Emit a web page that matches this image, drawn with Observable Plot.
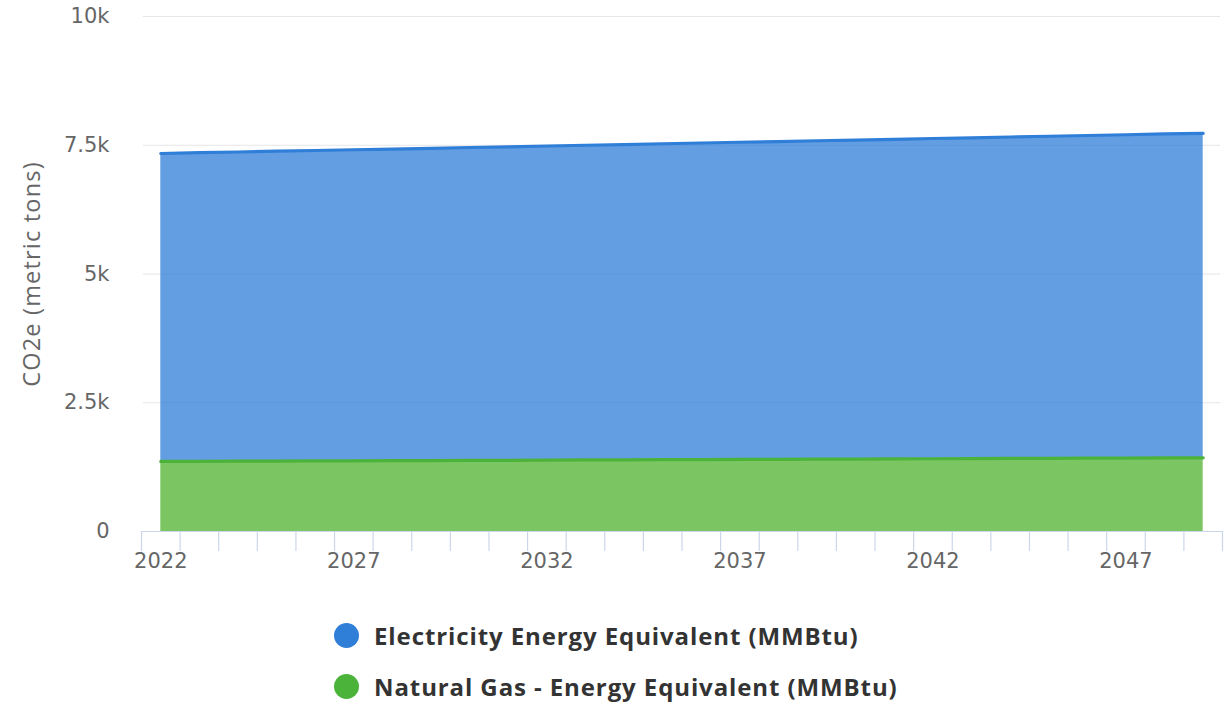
<!DOCTYPE html>
<html>
<head>
<meta charset="utf-8">
<script src="https://cdn.jsdelivr.net/npm/d3@7"></script>
<script src="https://cdn.jsdelivr.net/npm/@observablehq/plot@0.6"></script>
<style>
  html, body { margin: 0; padding: 0; background: #fff; }
  #wrap { position: relative; width: 1230px; height: 704px; font-family: "DejaVu Sans", sans-serif; }
  #legend { position: absolute; left: 334px; top: 610px; }
  .item { display: flex; align-items: center; height: 51px; }
  .dot { width: 25px; height: 25px; border-radius: 50%; margin-right: 15px; }
  .lbl { font-family: "Open Sans", sans-serif; font-weight: bold; font-size: 24px; letter-spacing: 0.9px; color: #333; }
</style>
</head>
<body>
<div id="wrap"><div id="chart"></div><div id="legend"></div></div>
<script>
const years = [2022,2023,2024,2025,2026,2027,2028,2029,2030,2031,2032,2033,2034,2035,2036,2037,2038,2039,2040,2041,2042,2043,2044,2045,2046,2047,2048,2049];
const electricity = [5980,5992,6004,6016,6028,6040,6051,6063,6075,6087,6099,6111,6123,6135,6147,6159,6170,6182,6194,6206,6218,6230,6242,6254,6266,6278,6290,6301];
const naturalGas = [1360,1363,1365,1368,1370,1373,1375,1378,1381,1383,1386,1389,1391,1394,1397,1399,1402,1405,1407,1410,1413,1415,1418,1421,1423,1426,1429,1431];
const seriesNames = ["Electricity Energy Equivalent (MMBtu)", "Natural Gas - Energy Equivalent (MMBtu)"];
const lineColors = ["#2f7ed8", "#4cb33a"];
const fillColors = ["#2f7ed8", "#4fb32f"];
const yTicks = [0, 2500, 5000, 7500, 10000];
const yTickLabels = ["0", "2.5k", "5k", "7.5k", "10k"];
const xLabelYears = [2022, 2027, 2032, 2037, 2042, 2047];

const data = [];
years.forEach((yr, i) => {
  data.push({year: yr, series: seriesNames[1], value: naturalGas[i]});
  data.push({year: yr, series: seriesNames[0], value: electricity[i]});
});
const order = [seriesNames[1], seriesNames[0]];
const tickBounds = d3.range(years[0] - 0.5, years[years.length - 1] + 1, 1);

const chart = Plot.plot({
  width: 1230,
  height: 590,
  marginTop: 16,
  marginBottom: 59,
  marginLeft: 141,
  marginRight: 8,
  style: {fontFamily: "DejaVu Sans, sans-serif", background: "#fff"},
  x: {domain: [years[0] - 0.5, years[years.length - 1] + 0.5], label: null},
  y: {domain: [0, 10000], label: null},
  color: {domain: seriesNames, range: fillColors},
  marks: [
    Plot.ruleY(yTicks.slice(1), {stroke: "#e6e6e6", strokeWidth: 1.2, x1: years[0] - 0.45, x2: years[years.length - 1] + 0.45}),
    Plot.areaY(data, Plot.stackY({x: "year", y: "value", z: "series", fill: "series", fillOpacity: 0.75, order})),
    Plot.lineY(data, Plot.stackY2({x: "year", y: "value", z: "series", stroke: d => d.series === seriesNames[0] ? lineColors[0] : lineColors[1], strokeWidth: 3.2, strokeLinecap: "round", order})),
    Plot.ruleY([0], {stroke: "#ccd6eb", strokeWidth: 1.2}),
    Plot.axisX(tickBounds, {tickSize: 20, stroke: "#ccd6eb", strokeWidth: 1.2, text: null, label: null}),
    Plot.axisX(xLabelYears, {tickSize: 0, tickPadding: 22, tickFormat: d => String(d), fontSize: 21, fill: "#666", label: null}),
    Plot.axisY(yTicks, {tickSize: 0, tickPadding: 32, tickFormat: d => yTickLabels[yTicks.indexOf(d)], fontSize: 21, fill: "#666", label: null}),
    Plot.text(["CO2e (metric tons)"], {frameAnchor: "left", textAnchor: "middle", dx: -109, rotate: -90, fontSize: 23.5, fontFamily: "Open Sans", fill: "#666", letterSpacing: 1.2})
  ]
});
document.getElementById("chart").appendChild(chart);
chart.querySelectorAll("text").forEach(t => {
  if (t.textContent === "CO2e (metric tons)") t.setAttribute("letter-spacing", "1.2");
});

const legend = document.getElementById("legend");
seriesNames.forEach((name, i) => {
  const item = document.createElement("div");
  item.className = "item";
  const dot = document.createElement("div");
  dot.className = "dot";
  dot.style.background = lineColors[i];
  const lbl = document.createElement("span");
  lbl.className = "lbl";
  lbl.textContent = name;
  item.appendChild(dot);
  item.appendChild(lbl);
  legend.appendChild(item);
});
</script>
</body>
</html>
